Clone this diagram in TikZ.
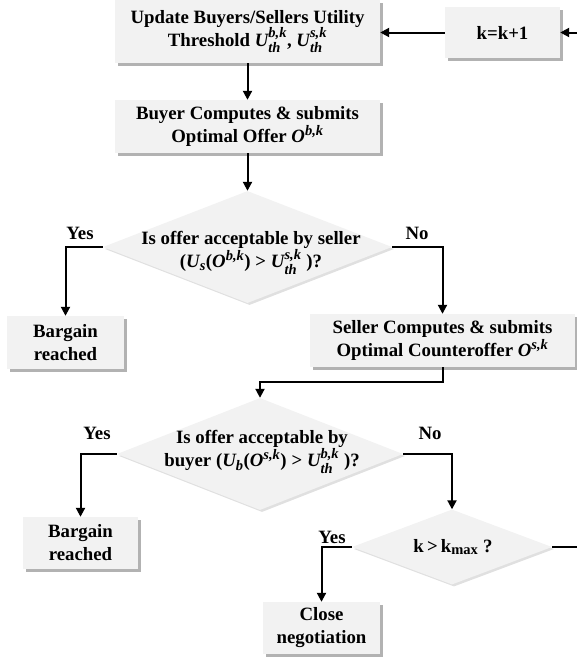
\documentclass[tikz,border=0pt]{standalone}
\usepackage{amsmath}
\usepackage{fontspec}
\setmainfont{Liberation Serif}
\usetikzlibrary{shapes.geometric,arrows.meta,shadows}
\DeclareMathSizes{18.8}{18.8}{14.5}{11}
\definecolor{boxgray}{HTML}{F2F2F2}
\newcommand{\bi}[1]{\text{\bfseries\itshape #1}}
\newcommand{\bt}[1]{\text{\bfseries #1}}
\tikzset{
  base/.style={font=\fontsize{18.8}{23}\selectfont\bfseries, align=center},
  box/.style={base, rectangle, fill=boxgray, inner sep=0pt,
    drop shadow={shadow xshift=2.5pt, shadow yshift=-2.5pt, fill=black, opacity=0.3}},
  dia/.style={diamond, fill=boxgray, inner sep=0pt,
    drop shadow={shadow xshift=2pt, shadow yshift=-2pt, fill=black, opacity=0.12}},
  txt/.style={base, inner sep=0pt},
  arr/.style={line width=2pt, -{Triangle[length=9pt,width=9pt]}},
  ln/.style={line width=2pt},
}
\begin{document}
\begin{tikzpicture}[x=1pt,y=-1pt]
\useasboundingbox (0,0) rectangle (577,662);
% boxes
\node[box, minimum width=265pt, minimum height=63pt] (b1) at (247.5,31.5)
  {Update Buyers/Sellers Utility\\Threshold $\bi{U}^{\bi{b,k}}_{\bi{th}}$, $\bi{U}^{\bi{s,k}}_{\bi{th}}$};
\node[box, minimum width=115pt, minimum height=51pt] (bk) at (502.5,32.5) {k=k+1};
\node[box, minimum width=265pt, minimum height=53pt] (b2) at (247.5,126.5)
  {Buyer Computes \& submits\\Optimal Offer $\bi{O}^{\bi{b,k}}$};
\node[dia, minimum width=289pt, minimum height=112pt] (d1) at (247.5,247) {};
\node[txt] (d1t) at (251,253) {Is offer acceptable by seller\\
  $\bt{(}\bi{U}_{\bi{s}}\bt{(}\bi{O}^{\bi{b,k}}\bt{)}\mathrel{\bt{>}}\bi{U}^{\bi{s,k}}_{\bi{th}}\;\bt{)?}$};
\node[box, minimum width=117pt, minimum height=53pt] (bar1) at (65.5,342.5) {Bargain\\reached};
\node[box, minimum width=265pt, minimum height=53pt] (sel) at (442.5,340.5)
  {Seller Computes \& submits\\Optimal Counteroffer $\bi{O}^{\bi{s,k}}$};
\node[dia, minimum width=286pt, minimum height=112pt] (d2) at (260,454) {};
\node[txt] (d2t) at (262,452) {Is offer acceptable by\\
  buyer $\bt{(}\bi{U}_{\bi{b}}\bt{(}\bi{O}^{\bi{s,k}}\bt{)}\mathrel{\bt{>}}\bi{U}^{\bi{b,k}}_{\bi{th}}\;\bt{)?}$};
\node[box, minimum width=115pt, minimum height=52pt] (bar2) at (80.5,543) {Bargain\\reached};
\node[dia, minimum width=200pt, minimum height=75pt] (d3) at (452,547) {};
\node[txt] (d3t) at (453,547) {k\,>\,k\textsubscript{max} ?};
\node[box, minimum width=117pt, minimum height=52pt] (close) at (321.5,628) {Close\\negotiation};
% labels
\node[txt] (y1) at (80,233) {Yes};
\node[txt] (n1) at (417,233) {No};
\node[txt] (y2) at (97,433) {Yes};
\node[txt] (n2) at (430,433) {No};
\node[txt] (y3) at (332,537) {Yes};
% edge coordinates
\coordinate (rin) at (577,32.5);
\coordinate (rout) at (577,547);
% connectors
\draw[arr] (rin) -- (bk.east);
\draw[arr] (bk.west) -- (bk.west -| b1.east);
\draw[arr] (b1.south) -- (b2.north);
\draw[arr] (b2.south) -- (d1.north);
\draw[arr] (d1.west) -| (bar1.north);
\draw[arr] (d1.east) -| (sel.north);
\draw[arr] (sel.south) -- ++(0,15) -| (d2.north);
\draw[arr] (d2.west) -| (bar2.north);
\draw[arr] (d2.east) -| (d3.north);
\draw[arr] (d3.west) -| (close.north);
\draw[ln] (d3.east) -- (rout);
\end{tikzpicture}
\end{document}
